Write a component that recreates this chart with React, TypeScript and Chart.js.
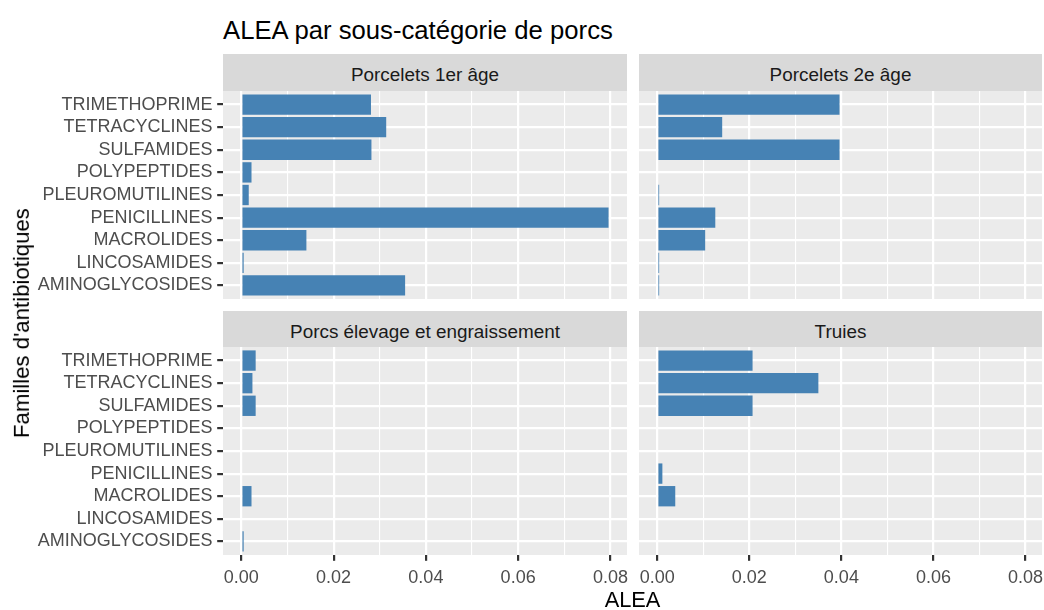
import React, { useEffect, useRef } from 'react';
import { Chart, registerables } from 'chart.js';

Chart.register(...registerables);

// ---- data ----
const categories = [
  'AMINOGLYCOSIDES',
  'LINCOSAMIDES',
  'MACROLIDES',
  'PENICILLINES',
  'PLEUROMUTILINES',
  'POLYPEPTIDES',
  'SULFAMIDES',
  'TETRACYCLINES',
  'TRIMETHOPRIME',
];
const panelTitles = ['Porcelets 1er âge', 'Porcelets 2e âge', 'Porcs élevage et engraissement', 'Truies'];
const porcelets1erAge = [0.0355, 0.0005, 0.0141, 0.0796, 0.0016, 0.0022, 0.0282, 0.0314, 0.0281];
const porcelets2eAge = [0.0004, 0.0004, 0.0104, 0.0126, 0.0004, 0, 0.0396, 0.0141, 0.0396];
const porcsEngraissement = [0.0005, 0, 0.0022, 0, 0, 0, 0.0031, 0.0024, 0.0031];
const truies = [0, 0, 0.0039, 0.0011, 0, 0, 0.0207, 0.035, 0.0207];
const xTickValues = [0, 0.01, 0.02, 0.03, 0.04, 0.05, 0.06, 0.07, 0.08];
const chartTitle = 'ALEA par sous-catégorie de porcs';
const xTitle = 'ALEA';
const yTitle = "Familles d'antibiotiques";

// ---- layout ----
const W = 1044;
const H = 610;
const FONT = '"Liberation Sans", Arial, Helvetica, sans-serif';
const COLS = [
  { left: 223, right: 627 },
  { left: 639, right: 1042 },
];
const ROWS = [
  { top: 91, bottom: 299, stripTop: 54 },
  { top: 347, bottom: 555, stripTop: 311 },
];

const bgPlugin = {
  id: 'panelBg',
  beforeDraw(chart: any) {
    const { ctx, chartArea: a } = chart;
    ctx.save();
    ctx.fillStyle = '#EBEBEB';
    ctx.fillRect(a.left, a.top, a.right - a.left, a.bottom - a.top);
    ctx.restore();
  },
};

const isMajor = (v: number) => Math.round(v * 100) % 2 === 0;

function makeConfig(values: number[], col: number, row: number): any {
  const c = COLS[col];
  const r = ROWS[row];
  const showY = col === 0;
  const showX = row === 1;
  const yWidth = showY ? c.left : 0;
  const xHeight = showX ? H - r.bottom : 0;
  return {
    type: 'bar',
    data: {
      datasets: [
        {
          data: values.map((v, i) => ({ x: v, y: i })),
          backgroundColor: '#4682B4',
          borderWidth: 0,
          barPercentage: 0.9,
          categoryPercentage: 1,
        },
      ],
    },
    options: {
      indexAxis: 'y',
      responsive: false,
      animation: false,
      events: [],
      layout: {
        padding: {
          left: c.left - yWidth,
          right: W - c.right,
          top: r.top,
          bottom: H - r.bottom - xHeight,
        },
      },
      plugins: { legend: { display: false }, tooltip: { enabled: false }, title: { display: false } },
      scales: {
        x: {
          type: 'linear',
          position: 'bottom',
          offset: false,
          min: -0.00398,
          max: 0.0836,
          afterBuildTicks: (s: any) => {
            s.ticks = xTickValues.map((v) => ({ value: v }));
          },
          afterFit: (s: any) => {
            s.height = xHeight;
            s.paddingLeft = 0;
            s.paddingRight = 0;
          },
          border: { display: false },
          grid: {
            offset: false,
            color: '#FFFFFF',
            lineWidth: (ctx: any) => (ctx.tick && !isMajor(ctx.tick.value) ? 1.1 : 2.2),
            drawTicks: showX,
            tickLength: 5.8,
            tickWidth: 2.2,
            tickColor: (ctx: any) => (ctx.tick && isMajor(ctx.tick.value) ? '#333333' : 'rgba(0,0,0,0)'),
          },
          ticks: {
            display: showX,
            autoSkip: false,
            maxRotation: 0,
            minRotation: 0,
            padding: 6.7,
            color: '#4D4D4D',
            font: { family: FONT, size: 18 },
            callback: (v: any) => (isMajor(Number(v)) ? Number(v).toFixed(2) : ''),
          },
        },
        y: {
          type: 'linear',
          position: 'left',
          offset: false,
          min: -0.6,
          max: 8.6,
          afterBuildTicks: (s: any) => {
            s.ticks = categories.map((_, i) => ({ value: i }));
          },
          afterFit: (s: any) => {
            s.width = yWidth;
            s.paddingTop = 0;
            s.paddingBottom = 0;
          },
          border: { display: false },
          grid: {
            offset: false,
            color: '#FFFFFF',
            lineWidth: 2.2,
            drawTicks: showY,
            tickLength: 5.8,
            tickWidth: 2.2,
            tickColor: '#333333',
          },
          ticks: {
            display: showY,
            autoSkip: false,
            padding: 4.7,
            color: '#4D4D4D',
            font: { family: FONT, size: 18 },
            callback: (v: any) => categories[Math.round(Number(v))] ?? '',
          },
        },
      },
    },
    plugins: [bgPlugin],
  };
}

function Panel({ values, col, row }: { values: number[]; col: number; row: number }) {
  const ref = useRef<HTMLCanvasElement | null>(null);
  useEffect(() => {
    if (!ref.current) return;
    const chart = new Chart(ref.current, makeConfig(values, col, row));
    return () => chart.destroy();
  }, [values, col, row]);
  return (
    <canvas
      ref={ref}
      width={W}
      height={H}
      style={{ position: 'absolute', left: 0, top: 0, width: W, height: H }}
    />
  );
}

function Strip({ text, col, row }: { text: string; col: number; row: number }) {
  const c = COLS[col];
  const r = ROWS[row];
  return (
    <div
      style={{
        position: 'absolute',
        left: c.left,
        top: r.stripTop,
        width: c.right - c.left,
        height: r.top - r.stripTop,
        background: '#D9D9D9',
      }}
    >
      <div
        style={{
          position: 'absolute',
          left: 0,
          right: 0,
          top: 11.9,
          textAlign: 'center',
          fontFamily: FONT,
          fontSize: 18.9,
          lineHeight: 1,
          color: '#1A1A1A',
          whiteSpace: 'nowrap',
        }}
      >
        {text}
      </div>
    </div>
  );
}

export default function App() {
  const series = [porcelets1erAge, porcelets2eAge, porcsEngraissement, truies];
  return (
    <div style={{ position: 'absolute', left: 0, top: 0, width: W, height: H, background: '#FFFFFF', overflow: 'hidden' }}>
      <div
        style={{
          position: 'absolute',
          left: 223,
          top: 17.6,
          fontFamily: FONT,
          fontSize: 25.7,
          lineHeight: 1,
          color: '#000000',
          whiteSpace: 'nowrap',
        }}
      >
        {chartTitle}
      </div>
      {series.map((s, i) => (
        <Strip key={'s' + i} text={panelTitles[i]} col={i % 2} row={Math.floor(i / 2)} />
      ))}
      {series.map((s, i) => (
        <Panel key={'p' + i} values={s} col={i % 2} row={Math.floor(i / 2)} />
      ))}
      <div
        style={{
          position: 'absolute',
          left: 223,
          width: 1042 - 223,
          top: 589.2,
          textAlign: 'center',
          fontFamily: FONT,
          fontSize: 21.8,
          lineHeight: 1,
          color: '#000000',
          whiteSpace: 'nowrap',
        }}
      >
        {xTitle}
      </div>
      <div
        style={{
          position: 'absolute',
          left: 22 - 150,
          top: 323 - 11.1,
          width: 300,
          height: 22.2,
          textAlign: 'center',
          fontFamily: FONT,
          fontSize: 22.2,
          lineHeight: 1,
          color: '#000000',
          whiteSpace: 'nowrap',
          transform: 'rotate(-90deg)',
          transformOrigin: '50% 50%',
        }}
      >
        {yTitle}
      </div>
    </div>
  );
}
